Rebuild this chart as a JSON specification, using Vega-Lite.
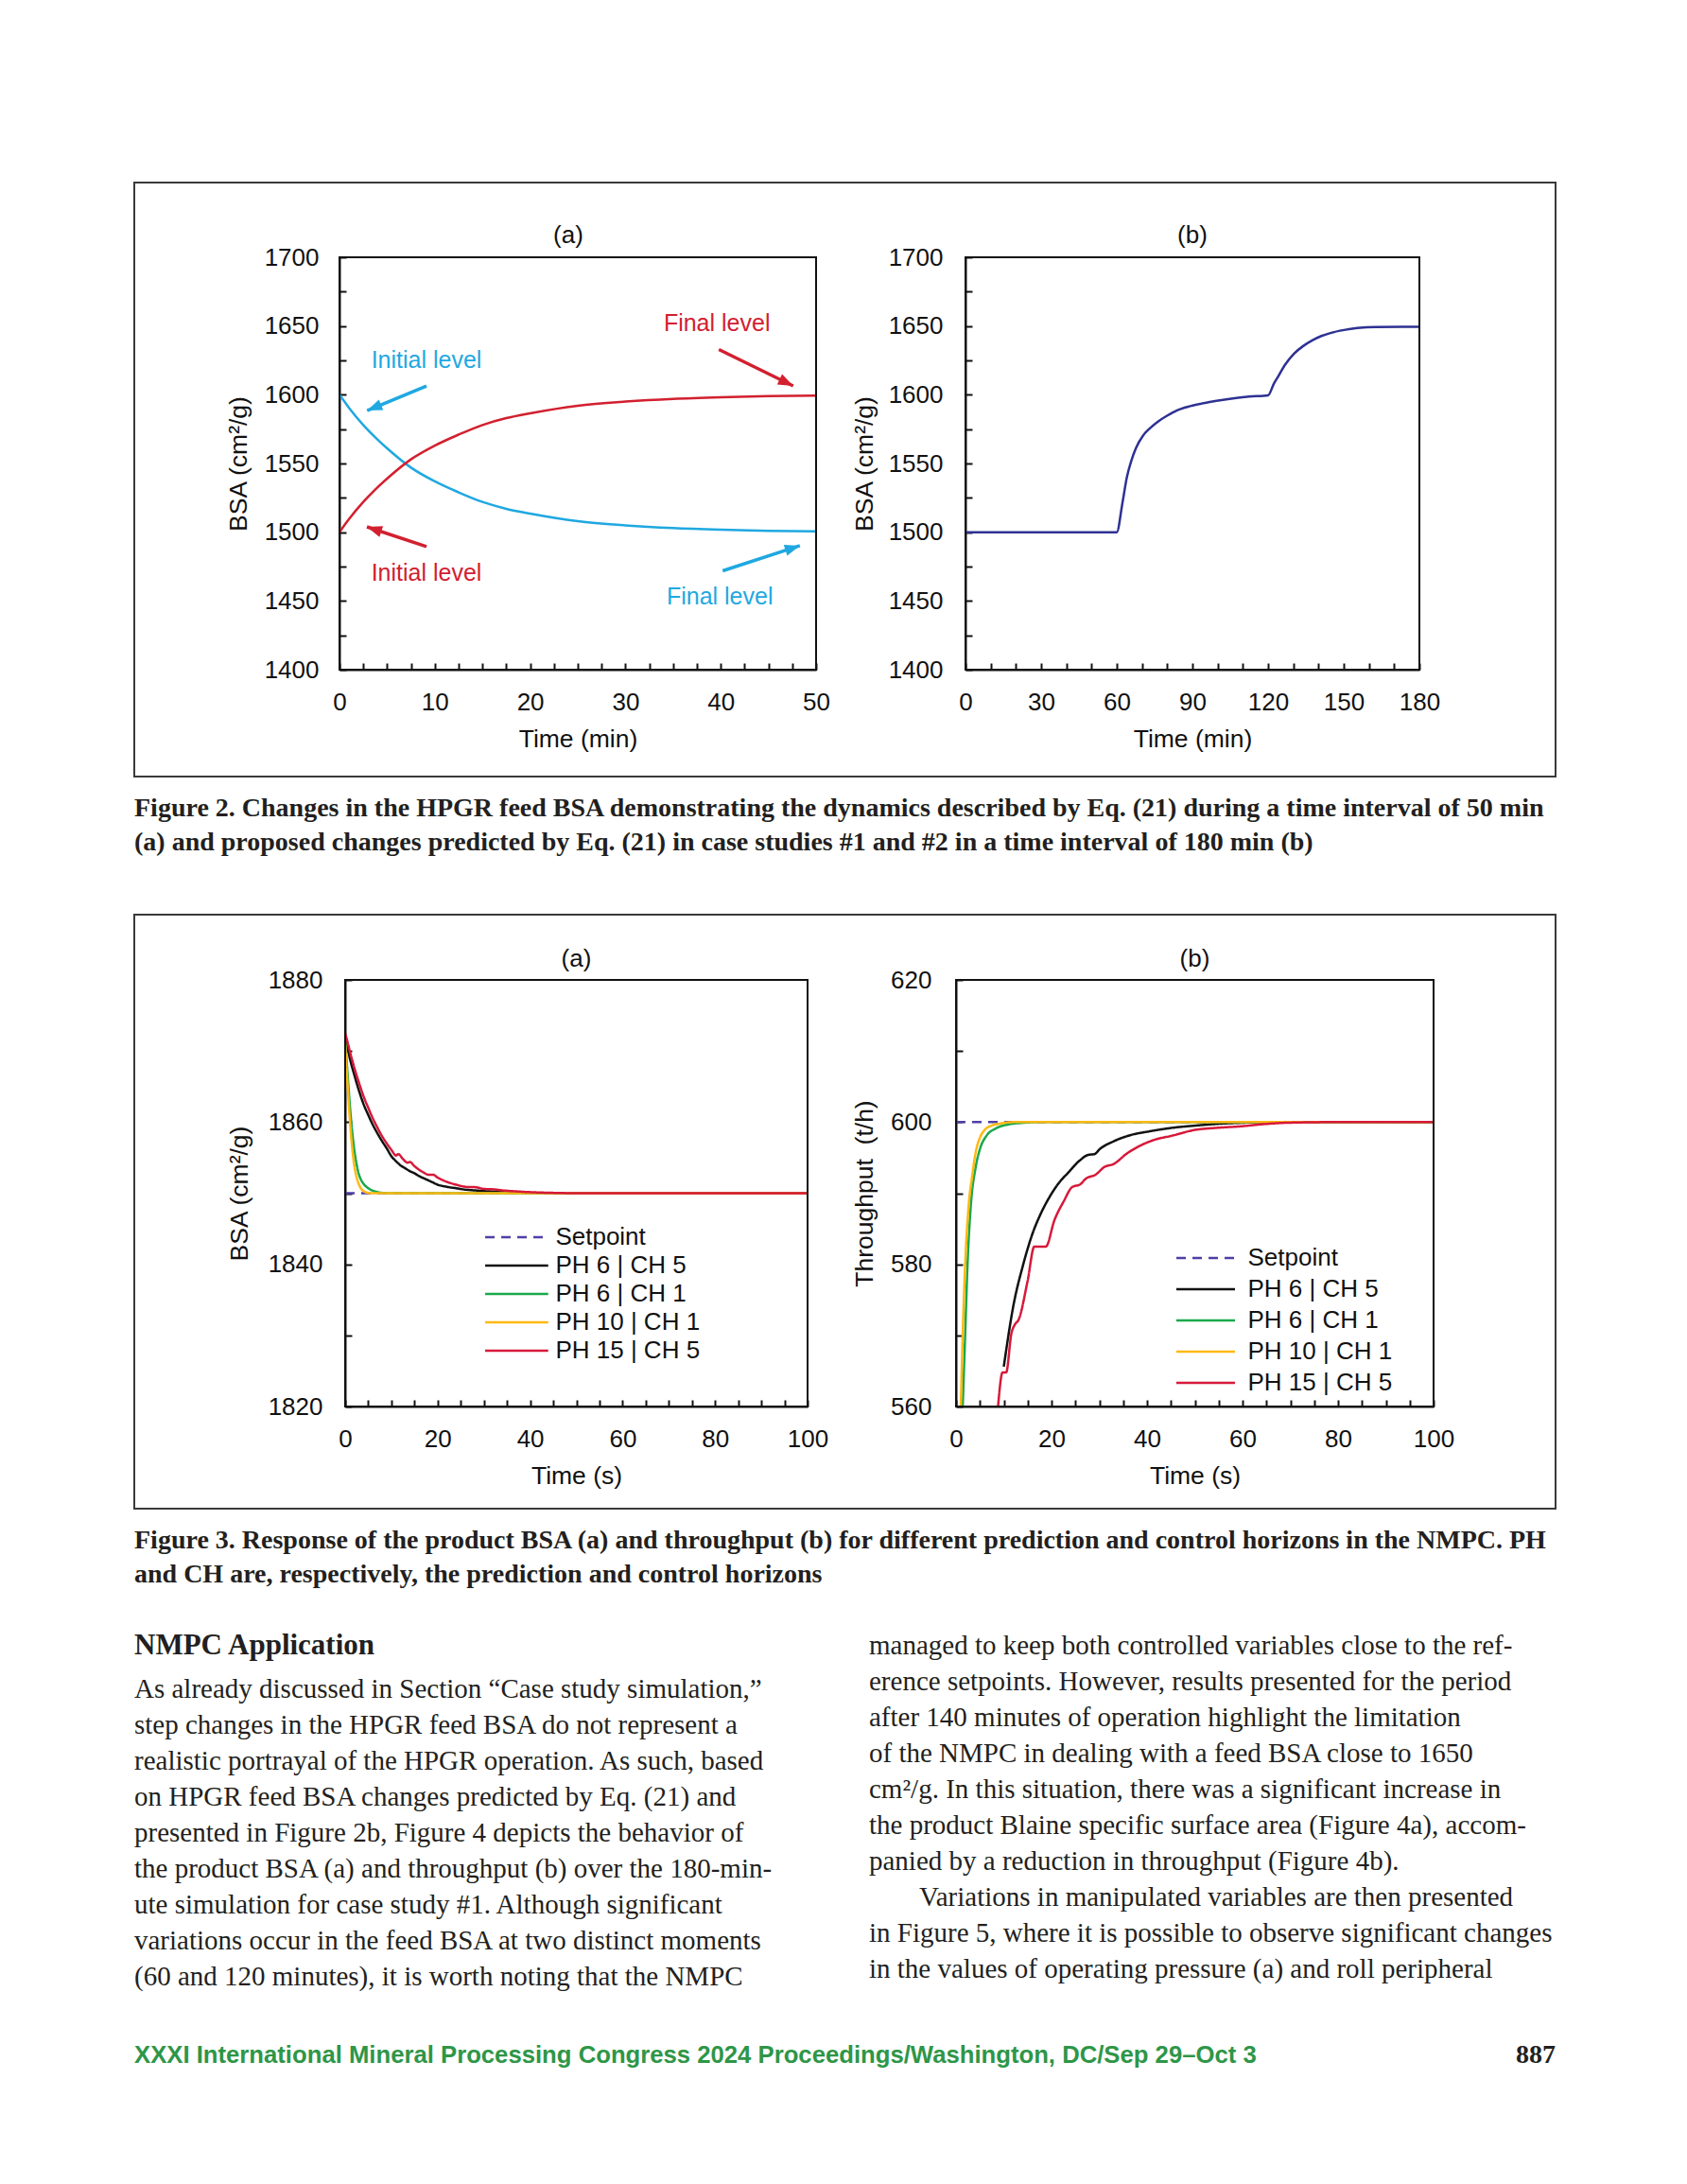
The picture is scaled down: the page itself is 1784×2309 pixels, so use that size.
{
  "$schema": "https://vega.github.io/schema/vega-lite/v6.json",
  "background": "white",
  "padding": {"left": 141, "top": 192, "right": 20, "bottom": 20},
  "config": {
    "font": "Liberation Sans",
    "view": {"stroke": null},
    "axis": {"grid": false, "domainColor": "#111111", "domainWidth": 2, "tickColor": "#111111", "tickWidth": 2, "tickSize": -7, "labelFont": "Liberation Sans", "labelFontSize": 26, "labelColor": "#111111", "titleFont": "Liberation Sans", "titleFontSize": 26.5, "titleFontWeight": "normal", "titleColor": "#111111", "labelFlush": false, "labelOverlap": false},
    "text": {"font": "Liberation Sans"}
  },
  "datasets": {
    "fig2a": [
      {"t": 0, "bsa": 1600, "series": "decrease"}, {"t": 1, "bsa": 1590.5, "series": "decrease"}, {"t": 2.5, "bsa": 1578, "series": "decrease"}, {"t": 3.75, "bsa": 1569, "series": "decrease"}, {"t": 5, "bsa": 1561, "series": "decrease"}, {"t": 7.5, "bsa": 1547, "series": "decrease"}, {"t": 10, "bsa": 1537, "series": "decrease"}, {"t": 12.5, "bsa": 1529, "series": "decrease"}, {"t": 15, "bsa": 1522, "series": "decrease"}, {"t": 17.5, "bsa": 1517, "series": "decrease"}, {"t": 20, "bsa": 1513.5, "series": "decrease"}, {"t": 25, "bsa": 1508, "series": "decrease"}, {"t": 30, "bsa": 1505, "series": "decrease"}, {"t": 35, "bsa": 1503, "series": "decrease"}, {"t": 40, "bsa": 1501.8, "series": "decrease"}, {"t": 45, "bsa": 1501, "series": "decrease"}, {"t": 50, "bsa": 1500.7, "series": "decrease"},
      {"t": 0, "bsa": 1500, "series": "increase"}, {"t": 1, "bsa": 1509.5, "series": "increase"}, {"t": 2.5, "bsa": 1522, "series": "increase"}, {"t": 3.75, "bsa": 1531, "series": "increase"}, {"t": 5, "bsa": 1539, "series": "increase"}, {"t": 7.5, "bsa": 1553, "series": "increase"}, {"t": 10, "bsa": 1563, "series": "increase"}, {"t": 12.5, "bsa": 1571, "series": "increase"}, {"t": 15, "bsa": 1578, "series": "increase"}, {"t": 17.5, "bsa": 1583, "series": "increase"}, {"t": 20, "bsa": 1586.5, "series": "increase"}, {"t": 25, "bsa": 1592, "series": "increase"}, {"t": 30, "bsa": 1595, "series": "increase"}, {"t": 35, "bsa": 1597, "series": "increase"}, {"t": 40, "bsa": 1598.2, "series": "increase"}, {"t": 45, "bsa": 1599, "series": "increase"}, {"t": 50, "bsa": 1599.3, "series": "increase"}
    ],
    "fig2b": [
      {"t": 0, "bsa": 1500}, {"t": 60, "bsa": 1500}, {"t": 62.2, "bsa": 1520.8}, {"t": 64, "bsa": 1540}, {"t": 65.8, "bsa": 1552.2}, {"t": 67.6, "bsa": 1561.2}, {"t": 70.3, "bsa": 1570}, {"t": 73, "bsa": 1575.4}, {"t": 76.6, "bsa": 1580.8}, {"t": 80.1, "bsa": 1584.9}, {"t": 83.7, "bsa": 1588.5}, {"t": 89.1, "bsa": 1591.7}, {"t": 96.3, "bsa": 1594.5}, {"t": 103.4, "bsa": 1596.6}, {"t": 112.4, "bsa": 1598.6}, {"t": 120, "bsa": 1599.6},
      {"t": 122.3, "bsa": 1608.1}, {"t": 124.1, "bsa": 1613.6}, {"t": 126.7, "bsa": 1621.7}, {"t": 130.3, "bsa": 1629.9}, {"t": 133.9, "bsa": 1635.4}, {"t": 137.5, "bsa": 1639.5}, {"t": 141.1, "bsa": 1642.7}, {"t": 144.7, "bsa": 1644.9}, {"t": 150.1, "bsa": 1647.1}, {"t": 155.4, "bsa": 1648.5}, {"t": 162.6, "bsa": 1649.3}, {"t": 180, "bsa": 1649.5}
    ],
    "fig3a": [
      {"t": 0, "bsa": 1850, "series": "Setpoint"}, {"t": 100, "bsa": 1850, "series": "Setpoint"},
      {"t": 0, "bsa": 1871.8, "series": "PH 6 | CH 5"}, {"t": 0.5, "bsa": 1870.5, "series": "PH 6 | CH 5"}, {"t": 1, "bsa": 1869, "series": "PH 6 | CH 5"}, {"t": 2, "bsa": 1866.6, "series": "PH 6 | CH 5"}, {"t": 3, "bsa": 1864.4, "series": "PH 6 | CH 5"}, {"t": 4, "bsa": 1862.5, "series": "PH 6 | CH 5"}, {"t": 5, "bsa": 1861, "series": "PH 6 | CH 5"}, {"t": 6, "bsa": 1859.6, "series": "PH 6 | CH 5"}, {"t": 7, "bsa": 1858.4, "series": "PH 6 | CH 5"}, {"t": 8, "bsa": 1857.3, "series": "PH 6 | CH 5"}, {"t": 9, "bsa": 1856.3, "series": "PH 6 | CH 5"}, {"t": 10, "bsa": 1855.2, "series": "PH 6 | CH 5"}, {"t": 11, "bsa": 1854.5, "series": "PH 6 | CH 5"}, {"t": 12, "bsa": 1853.9, "series": "PH 6 | CH 5"}, {"t": 13, "bsa": 1853.5, "series": "PH 6 | CH 5"}, {"t": 14, "bsa": 1853.1, "series": "PH 6 | CH 5"}, {"t": 15, "bsa": 1852.8, "series": "PH 6 | CH 5"}, {"t": 16, "bsa": 1852.4, "series": "PH 6 | CH 5"}, {"t": 17, "bsa": 1852.1, "series": "PH 6 | CH 5"}, {"t": 18, "bsa": 1851.8, "series": "PH 6 | CH 5"}, {"t": 19, "bsa": 1851.5, "series": "PH 6 | CH 5"}, {"t": 20, "bsa": 1851.2, "series": "PH 6 | CH 5"}, {"t": 22, "bsa": 1850.9, "series": "PH 6 | CH 5"}, {"t": 24, "bsa": 1850.7, "series": "PH 6 | CH 5"}, {"t": 26, "bsa": 1850.5, "series": "PH 6 | CH 5"}, {"t": 28, "bsa": 1850.4, "series": "PH 6 | CH 5"}, {"t": 30, "bsa": 1850.3, "series": "PH 6 | CH 5"}, {"t": 33, "bsa": 1850.2, "series": "PH 6 | CH 5"}, {"t": 36, "bsa": 1850.1, "series": "PH 6 | CH 5"}, {"t": 40, "bsa": 1850.05, "series": "PH 6 | CH 5"}, {"t": 45, "bsa": 1850, "series": "PH 6 | CH 5"}, {"t": 100, "bsa": 1850, "series": "PH 6 | CH 5"},
      {"t": 0, "bsa": 1871.5, "series": "PH 6 | CH 1"}, {"t": 0.5, "bsa": 1867, "series": "PH 6 | CH 1"}, {"t": 1, "bsa": 1862.5, "series": "PH 6 | CH 1"}, {"t": 1.5, "bsa": 1858.8, "series": "PH 6 | CH 1"}, {"t": 2, "bsa": 1856, "series": "PH 6 | CH 1"}, {"t": 2.5, "bsa": 1854, "series": "PH 6 | CH 1"}, {"t": 3, "bsa": 1852.6, "series": "PH 6 | CH 1"}, {"t": 3.5, "bsa": 1851.8, "series": "PH 6 | CH 1"}, {"t": 4, "bsa": 1851.3, "series": "PH 6 | CH 1"}, {"t": 5, "bsa": 1850.7, "series": "PH 6 | CH 1"}, {"t": 6, "bsa": 1850.35, "series": "PH 6 | CH 1"}, {"t": 7, "bsa": 1850.15, "series": "PH 6 | CH 1"}, {"t": 8, "bsa": 1850.05, "series": "PH 6 | CH 1"}, {"t": 10, "bsa": 1850, "series": "PH 6 | CH 1"}, {"t": 100, "bsa": 1850, "series": "PH 6 | CH 1"},
      {"t": 0, "bsa": 1871, "series": "PH 10 | CH 1"}, {"t": 0.5, "bsa": 1865.5, "series": "PH 10 | CH 1"}, {"t": 1, "bsa": 1860.5, "series": "PH 10 | CH 1"}, {"t": 1.5, "bsa": 1856.5, "series": "PH 10 | CH 1"}, {"t": 2, "bsa": 1853.8, "series": "PH 10 | CH 1"}, {"t": 2.5, "bsa": 1852.2, "series": "PH 10 | CH 1"}, {"t": 3, "bsa": 1851.2, "series": "PH 10 | CH 1"}, {"t": 3.5, "bsa": 1850.6, "series": "PH 10 | CH 1"}, {"t": 4, "bsa": 1850.3, "series": "PH 10 | CH 1"}, {"t": 5, "bsa": 1850.05, "series": "PH 10 | CH 1"}, {"t": 6, "bsa": 1850, "series": "PH 10 | CH 1"}, {"t": 100, "bsa": 1850, "series": "PH 10 | CH 1"},
      {"t": 0, "bsa": 1872.5, "series": "PH 15 | CH 5"}, {"t": 0.5, "bsa": 1871.3, "series": "PH 15 | CH 5"}, {"t": 1, "bsa": 1870, "series": "PH 15 | CH 5"}, {"t": 2, "bsa": 1867.6, "series": "PH 15 | CH 5"}, {"t": 3, "bsa": 1865.5, "series": "PH 15 | CH 5"}, {"t": 4, "bsa": 1863.6, "series": "PH 15 | CH 5"}, {"t": 5, "bsa": 1862, "series": "PH 15 | CH 5"}, {"t": 6, "bsa": 1860.5, "series": "PH 15 | CH 5"}, {"t": 7, "bsa": 1859.2, "series": "PH 15 | CH 5"}, {"t": 8, "bsa": 1858, "series": "PH 15 | CH 5"}, {"t": 9, "bsa": 1857, "series": "PH 15 | CH 5"}, {"t": 10, "bsa": 1856.1, "series": "PH 15 | CH 5"}, {"t": 11, "bsa": 1855.3, "series": "PH 15 | CH 5"}, {"t": 11.5, "bsa": 1855.5, "series": "PH 15 | CH 5"}, {"t": 12.5, "bsa": 1854.8, "series": "PH 15 | CH 5"}, {"t": 13.5, "bsa": 1854.3, "series": "PH 15 | CH 5"}, {"t": 14, "bsa": 1854.4, "series": "PH 15 | CH 5"}, {"t": 15, "bsa": 1853.8, "series": "PH 15 | CH 5"}, {"t": 16, "bsa": 1853.3, "series": "PH 15 | CH 5"}, {"t": 17, "bsa": 1852.9, "series": "PH 15 | CH 5"}, {"t": 18, "bsa": 1852.6, "series": "PH 15 | CH 5"}, {"t": 19, "bsa": 1852.6, "series": "PH 15 | CH 5"}, {"t": 20, "bsa": 1852.2, "series": "PH 15 | CH 5"}, {"t": 22, "bsa": 1851.6, "series": "PH 15 | CH 5"}, {"t": 24, "bsa": 1851.2, "series": "PH 15 | CH 5"}, {"t": 26, "bsa": 1850.9, "series": "PH 15 | CH 5"}, {"t": 27, "bsa": 1850.85, "series": "PH 15 | CH 5"}, {"t": 28, "bsa": 1850.85, "series": "PH 15 | CH 5"}, {"t": 30, "bsa": 1850.6, "series": "PH 15 | CH 5"}, {"t": 32, "bsa": 1850.55, "series": "PH 15 | CH 5"}, {"t": 34, "bsa": 1850.4, "series": "PH 15 | CH 5"}, {"t": 36, "bsa": 1850.3, "series": "PH 15 | CH 5"}, {"t": 40, "bsa": 1850.15, "series": "PH 15 | CH 5"}, {"t": 45, "bsa": 1850.05, "series": "PH 15 | CH 5"}, {"t": 50, "bsa": 1850, "series": "PH 15 | CH 5"}, {"t": 100, "bsa": 1850, "series": "PH 15 | CH 5"}
    ],
    "fig3b": [
      {"t": 0, "tph": 600, "series": "Setpoint"}, {"t": 100, "tph": 600, "series": "Setpoint"},
      {"t": 10, "tph": 565.6, "series": "PH 6 | CH 5"}, {"t": 12.1, "tph": 574.5, "series": "PH 6 | CH 5"}, {"t": 14, "tph": 579.8, "series": "PH 6 | CH 5"}, {"t": 15.9, "tph": 584.1, "series": "PH 6 | CH 5"}, {"t": 17.8, "tph": 587.2, "series": "PH 6 | CH 5"}, {"t": 19.7, "tph": 589.6, "series": "PH 6 | CH 5"}, {"t": 21.6, "tph": 591.5, "series": "PH 6 | CH 5"}, {"t": 23.5, "tph": 592.9, "series": "PH 6 | CH 5"}, {"t": 25.9, "tph": 594.6, "series": "PH 6 | CH 5"}, {"t": 27.7, "tph": 595.4, "series": "PH 6 | CH 5"}, {"t": 29, "tph": 595.5, "series": "PH 6 | CH 5"}, {"t": 30.1, "tph": 596.2, "series": "PH 6 | CH 5"}, {"t": 33, "tph": 597.3, "series": "PH 6 | CH 5"}, {"t": 36.7, "tph": 598.2, "series": "PH 6 | CH 5"}, {"t": 40.5, "tph": 598.7, "series": "PH 6 | CH 5"}, {"t": 45.3, "tph": 599.2, "series": "PH 6 | CH 5"}, {"t": 50, "tph": 599.5, "series": "PH 6 | CH 5"}, {"t": 54.7, "tph": 599.75, "series": "PH 6 | CH 5"}, {"t": 59.5, "tph": 599.9, "series": "PH 6 | CH 5"}, {"t": 65, "tph": 600, "series": "PH 6 | CH 5"}, {"t": 100, "tph": 600, "series": "PH 6 | CH 5"},
      {"t": 1.4, "tph": 560, "series": "PH 6 | CH 1"}, {"t": 1.9, "tph": 569.8, "series": "PH 6 | CH 1"}, {"t": 2.4, "tph": 579.8, "series": "PH 6 | CH 1"}, {"t": 3.1, "tph": 588.3, "series": "PH 6 | CH 1"}, {"t": 4.1, "tph": 593.6, "series": "PH 6 | CH 1"}, {"t": 5, "tph": 596.2, "series": "PH 6 | CH 1"}, {"t": 6.4, "tph": 598.1, "series": "PH 6 | CH 1"}, {"t": 8.3, "tph": 599.1, "series": "PH 6 | CH 1"}, {"t": 11.2, "tph": 599.7, "series": "PH 6 | CH 1"}, {"t": 14, "tph": 599.9, "series": "PH 6 | CH 1"}, {"t": 17, "tph": 600, "series": "PH 6 | CH 1"}, {"t": 100, "tph": 600, "series": "PH 6 | CH 1"},
      {"t": 1, "tph": 560, "series": "PH 10 | CH 1"}, {"t": 1.5, "tph": 572.4, "series": "PH 10 | CH 1"}, {"t": 1.9, "tph": 579.8, "series": "PH 10 | CH 1"}, {"t": 2.65, "tph": 588.3, "series": "PH 10 | CH 1"}, {"t": 3.4, "tph": 592.5, "series": "PH 10 | CH 1"}, {"t": 4.1, "tph": 595.7, "series": "PH 10 | CH 1"}, {"t": 5, "tph": 597.8, "series": "PH 10 | CH 1"}, {"t": 6, "tph": 598.9, "series": "PH 10 | CH 1"}, {"t": 7.4, "tph": 599.5, "series": "PH 10 | CH 1"}, {"t": 9.3, "tph": 599.8, "series": "PH 10 | CH 1"}, {"t": 12, "tph": 600, "series": "PH 10 | CH 1"}, {"t": 100, "tph": 600, "series": "PH 10 | CH 1"},
      {"t": 8.8, "tph": 560, "series": "PH 15 | CH 5"}, {"t": 9.75, "tph": 564.8, "series": "PH 15 | CH 5"}, {"t": 10.5, "tph": 564.8, "series": "PH 15 | CH 5"}, {"t": 11.6, "tph": 570.3, "series": "PH 15 | CH 5"}, {"t": 12.3, "tph": 571.5, "series": "PH 15 | CH 5"}, {"t": 13.1, "tph": 572.2, "series": "PH 15 | CH 5"}, {"t": 15, "tph": 577.7, "series": "PH 15 | CH 5"}, {"t": 16.4, "tph": 582.5, "series": "PH 15 | CH 5"}, {"t": 18.8, "tph": 582.5, "series": "PH 15 | CH 5"}, {"t": 20.6, "tph": 586.2, "series": "PH 15 | CH 5"}, {"t": 22.5, "tph": 588.8, "series": "PH 15 | CH 5"}, {"t": 24.4, "tph": 590.9, "series": "PH 15 | CH 5"}, {"t": 25.9, "tph": 591.2, "series": "PH 15 | CH 5"}, {"t": 27.3, "tph": 592.1, "series": "PH 15 | CH 5"}, {"t": 29.2, "tph": 592.6, "series": "PH 15 | CH 5"}, {"t": 31.1, "tph": 593.7, "series": "PH 15 | CH 5"}, {"t": 33, "tph": 594.1, "series": "PH 15 | CH 5"}, {"t": 35.8, "tph": 595.6, "series": "PH 15 | CH 5"}, {"t": 38.6, "tph": 596.7, "series": "PH 15 | CH 5"}, {"t": 41.5, "tph": 597.5, "series": "PH 15 | CH 5"}, {"t": 45.3, "tph": 598.1, "series": "PH 15 | CH 5"}, {"t": 50, "tph": 598.9, "series": "PH 15 | CH 5"}, {"t": 54.7, "tph": 599.2, "series": "PH 15 | CH 5"}, {"t": 59.5, "tph": 599.4, "series": "PH 15 | CH 5"}, {"t": 64.2, "tph": 599.7, "series": "PH 15 | CH 5"}, {"t": 68.9, "tph": 599.9, "series": "PH 15 | CH 5"}, {"t": 78.4, "tph": 600, "series": "PH 15 | CH 5"}, {"t": 100, "tph": 600, "series": "PH 15 | CH 5"}
    ],
    "heading": [{"line": 0, "text": "NMPC Application"}],
    "bodyLeft": [
      {"line": 0, "text": "As already discussed in Section “Case study simulation,”"},
      {"line": 1, "text": "step changes in the HPGR feed BSA do not represent a"},
      {"line": 2, "text": "realistic portrayal of the HPGR operation. As such, based"},
      {"line": 3, "text": "on HPGR feed BSA changes predicted by Eq. (21) and"},
      {"line": 4, "text": "presented in Figure 2b, Figure 4 depicts the behavior of"},
      {"line": 5, "text": "the product BSA (a) and throughput (b) over the 180-min-"},
      {"line": 6, "text": "ute simulation for case study #1. Although significant"},
      {"line": 7, "text": "variations occur in the feed BSA at two distinct moments"},
      {"line": 8, "text": "(60 and 120 minutes), it is worth noting that the NMPC"}
    ],
    "bodyRight": [
      {"line": 0, "text": "managed to keep both controlled variables close to the ref-", "para": "continued"},
      {"line": 1, "text": "erence setpoints. However, results presented for the period", "para": "continued"},
      {"line": 2, "text": "after 140 minutes of operation highlight the limitation", "para": "continued"},
      {"line": 3, "text": "of the NMPC in dealing with a feed BSA close to 1650", "para": "continued"},
      {"line": 4, "text": "cm²/g. In this situation, there was a significant increase in", "para": "continued"},
      {"line": 5, "text": "the product Blaine specific surface area (Figure 4a), accom-", "para": "continued"},
      {"line": 6, "text": "panied by a reduction in throughput (Figure 4b).", "para": "continued"},
      {"line": 7, "text": "Variations in manipulated variables are then presented", "para": "first"},
      {"line": 8, "text": "in Figure 5, where it is possible to observe significant changes", "para": "continued"},
      {"line": 9, "text": "in the values of operating pressure (a) and roll peripheral", "para": "continued"}
    ]
  },
  "spacing": 41,
  "vconcat": [
    {
      "spacing": 60,
      "vconcat": [
        {
          "width": 1503,
          "height": 628,
          "view": {"stroke": "#3a3a3a", "strokeWidth": 2},
          "title": {"text": ["Figure 2. Changes in the HPGR feed BSA demonstrating the dynamics described by Eq. (21) during a time interval of 50 min", "(a) and proposed changes predicted by Eq. (21) in case studies #1 and #2 in a time interval of 180 min (b)"], "orient": "bottom", "anchor": "start", "offset": 20, "font": "Liberation Serif", "fontSize": 28, "fontWeight": "bold", "lineHeight": 36, "color": "#231f20", "baseline": "top"},
          "data": {"values": [{}]},
          "resolve": {"scale": {"x": "independent", "y": "independent"}, "axis": {"x": "independent", "y": "independent"}},
          "layer": [
            {
              "layer": [
                {
                  "data": {"name": "fig2a"},
                  "mark": {"type": "line", "interpolate": "monotone", "strokeWidth": 2.5},
                  "encoding": {
                    "x": {"field": "t", "type": "quantitative", "scale": {"domain": [0, 50], "range": [217, 721], "nice": false, "zero": false}, "axis": {"orient": "bottom", "offset": -113, "title": "Time (min)", "format": "d", "values": [0, 2.5, 5, 7.5, 10, 12.5, 15, 17.5, 20, 22.5, 25, 27.5, 30, 32.5, 35, 37.5, 40, 42.5, 45, 47.5, 50], "labelExpr": "datum.value % 10 === 0 ? datum.label : ''", "labelPadding": 28, "titlePadding": 13}},
                    "y": {"field": "bsa", "type": "quantitative", "scale": {"domain": [1400, 1700], "range": [515, 79], "nice": false, "zero": false}, "axis": {"orient": "left", "offset": -217, "title": "BSA (cm²/g)", "format": "d", "values": [1400, 1425, 1450, 1475, 1500, 1525, 1550, 1575, 1600, 1625, 1650, 1675, 1700], "labelExpr": "datum.value % 50 === 0 ? datum.label : ''", "labelPadding": 29, "titlePadding": 12.5}},
                    "color": {"field": "series", "type": "nominal", "scale": {"domain": ["decrease", "increase"], "range": ["#1FA8E1", "#D2202F"]}, "legend": null}
                  }
                },
                {"mark": {"type": "rect", "fill": "transparent", "stroke": "#111111", "strokeWidth": 2}, "encoding": {"x": {"datum": 0}, "x2": {"datum": 50}, "y": {"datum": 1400}, "y2": {"datum": 1700}}},
                {"mark": {"type": "text", "text": "(a)", "fontSize": 26, "dy": -23, "color": "#111111"}, "encoding": {"x": {"datum": 24}, "y": {"datum": 1700}}},
                {"mark": {"type": "text", "text": "Initial level", "fontSize": 25, "color": "#1FA8E1"}, "encoding": {"x": {"datum": 9.13}, "y": {"datum": 1624.7}}},
                {"mark": {"type": "text", "text": "Final level", "fontSize": 25, "color": "#D2202F"}, "encoding": {"x": {"datum": 39.6}, "y": {"datum": 1651.5}}},
                {"mark": {"type": "text", "text": "Initial level", "fontSize": 25, "color": "#D2202F"}, "encoding": {"x": {"datum": 9.13}, "y": {"datum": 1470.5}}},
                {"mark": {"type": "text", "text": "Final level", "fontSize": 25, "color": "#1FA8E1"}, "encoding": {"x": {"datum": 39.9}, "y": {"datum": 1453}}},
                {"mark": {"type": "rule", "strokeWidth": 3.5, "color": "#1FA8E1"}, "encoding": {"x": {"datum": 9.13}, "y": {"datum": 1606.4}, "x2": {"datum": 2.9}, "y2": {"datum": 1588.5}}},
                {"mark": {"type": "rule", "strokeWidth": 3.5, "color": "#D2202F"}, "encoding": {"x": {"datum": 39.8}, "y": {"datum": 1632.9}, "x2": {"datum": 47.6}, "y2": {"datum": 1606.4}}},
                {"mark": {"type": "rule", "strokeWidth": 3.5, "color": "#D2202F"}, "encoding": {"x": {"datum": 9.13}, "y": {"datum": 1489.5}, "x2": {"datum": 2.88}, "y2": {"datum": 1503.9}}},
                {"mark": {"type": "rule", "strokeWidth": 3.5, "color": "#1FA8E1"}, "encoding": {"x": {"datum": 40.2}, "y": {"datum": 1471.9}, "x2": {"datum": 48.3}, "y2": {"datum": 1490.2}}},
                {"mark": {"type": "point", "shape": "M0,0L-0.75,2L0.75,2Z", "size": 256, "angle": 247.6, "filled": true, "opacity": 1, "strokeWidth": 0, "color": "#1FA8E1"}, "encoding": {"x": {"datum": 2.9}, "y": {"datum": 1588.5}}},
                {"mark": {"type": "point", "shape": "M0,0L-0.75,2L0.75,2Z", "size": 256, "angle": 116.1, "filled": true, "opacity": 1, "strokeWidth": 0, "color": "#D2202F"}, "encoding": {"x": {"datum": 47.6}, "y": {"datum": 1606.4}}},
                {"mark": {"type": "point", "shape": "M0,0L-0.75,2L0.75,2Z", "size": 256, "angle": 288.4, "filled": true, "opacity": 1, "strokeWidth": 0, "color": "#D2202F"}, "encoding": {"x": {"datum": 2.88}, "y": {"datum": 1503.9}}},
                {"mark": {"type": "point", "shape": "M0,0L-0.75,2L0.75,2Z", "size": 256, "angle": 72.1, "filled": true, "opacity": 1, "strokeWidth": 0, "color": "#1FA8E1"}, "encoding": {"x": {"datum": 48.3}, "y": {"datum": 1490.2}}}
              ]
            },
            {
              "layer": [
                {
                  "data": {"name": "fig2b"},
                  "mark": {"type": "line", "interpolate": "monotone", "strokeWidth": 2.5, "color": "#2E3192"},
                  "encoding": {
                    "x": {"field": "t", "type": "quantitative", "scale": {"domain": [0, 180], "range": [879, 1359], "nice": false, "zero": false}, "axis": {"orient": "bottom", "offset": -113, "title": "Time (min)", "format": "d", "values": [0, 10, 20, 30, 40, 50, 60, 70, 80, 90, 100, 110, 120, 130, 140, 150, 160, 170, 180], "labelExpr": "datum.value % 30 === 0 ? datum.label : ''", "labelPadding": 28, "titlePadding": 13}},
                    "y": {"field": "bsa", "type": "quantitative", "scale": {"domain": [1400, 1700], "range": [515, 79], "nice": false, "zero": false}, "axis": {"orient": "left", "offset": -879, "title": "BSA (cm²/g)", "format": "d", "values": [1400, 1412.5, 1425, 1437.5, 1450, 1462.5, 1475, 1487.5, 1500, 1512.5, 1525, 1537.5, 1550, 1562.5, 1575, 1587.5, 1600, 1612.5, 1625, 1637.5, 1650, 1662.5, 1675, 1687.5, 1700], "labelExpr": "datum.value % 50 === 0 ? datum.label : ''", "labelPadding": 31, "titlePadding": 11}}
                  }
                },
                {"mark": {"type": "rect", "fill": "transparent", "stroke": "#111111", "strokeWidth": 2}, "encoding": {"x": {"datum": 0}, "x2": {"datum": 180}, "y": {"datum": 1400}, "y2": {"datum": 1700}}},
                {"mark": {"type": "text", "text": "(b)", "fontSize": 26, "dy": -23, "color": "#111111"}, "encoding": {"x": {"datum": 90}, "y": {"datum": 1700}}}
              ]
            }
          ]
        },
        {
          "width": 1503,
          "height": 628,
          "view": {"stroke": "#3a3a3a", "strokeWidth": 2},
          "title": {"text": ["Figure 3. Response of the product BSA (a) and throughput (b) for different prediction and control horizons in the NMPC. PH", "and CH are, respectively, the prediction and control horizons"], "orient": "bottom", "anchor": "start", "offset": 20, "font": "Liberation Serif", "fontSize": 28, "fontWeight": "bold", "lineHeight": 36, "color": "#231f20", "baseline": "top"},
          "data": {"values": [{}]},
          "resolve": {"scale": {"x": "independent", "y": "independent", "color": "independent", "strokeDash": "independent"}, "axis": {"x": "independent", "y": "independent"}, "legend": {"color": "independent", "strokeDash": "independent"}},
          "layer": [
            {
              "layer": [
                {
                  "data": {"name": "fig3a"},
                  "mark": {"type": "line", "interpolate": "monotone", "strokeWidth": 2.5},
                  "encoding": {
                    "x": {"field": "t", "type": "quantitative", "scale": {"domain": [0, 100], "range": [223, 712], "nice": false, "zero": false}, "axis": {"orient": "bottom", "offset": -108, "title": "Time (s)", "format": "d", "values": [0, 5, 10, 15, 20, 25, 30, 35, 40, 45, 50, 55, 60, 65, 70, 75, 80, 85, 90, 95, 100], "labelExpr": "datum.value % 20 === 0 ? datum.label : ''", "labelPadding": 28, "titlePadding": 13}},
                    "y": {"field": "bsa", "type": "quantitative", "scale": {"domain": [1820, 1880], "range": [520, 69], "nice": false, "zero": false}, "axis": {"orient": "left", "offset": -223, "title": "BSA (cm²/g)", "format": "d", "values": [1820, 1830, 1840, 1850, 1860, 1870, 1880], "labelExpr": "datum.value % 20 === 0 ? datum.label : ''", "labelPadding": 31, "titlePadding": 15.5}},
                    "color": {"field": "series", "type": "nominal", "scale": {"domain": ["Setpoint", "PH 6 | CH 5", "PH 6 | CH 1", "PH 10 | CH 1", "PH 15 | CH 5"], "range": ["#4F3FA6", "#111111", "#1BA84A", "#FDB913", "#D7193A"]}, "legend": {"orient": "none", "legendX": 371, "legendY": 328, "title": null, "symbolType": "M-8,0H8", "symbolSize": 69.5, "symbolStrokeWidth": 2.5, "symbolOffset": 20.4, "labelOffset": 28, "labelFont": "Liberation Sans", "labelFontSize": 26, "labelColor": "#111111", "rowPadding": 4, "padding": 0, "labelLimit": 500}},
                    "strokeDash": {"field": "series", "type": "nominal", "scale": {"domain": ["Setpoint", "PH 6 | CH 5", "PH 6 | CH 1", "PH 10 | CH 1", "PH 15 | CH 5"], "range": [[10, 7], [1, 0], [1, 0], [1, 0], [1, 0]]}, "legend": {"orient": "none", "legendX": 371, "legendY": 328, "title": null, "symbolType": "M-8,0H8", "symbolSize": 69.5, "symbolStrokeWidth": 2.5, "symbolOffset": 20.4, "labelOffset": 28, "labelFont": "Liberation Sans", "labelFontSize": 26, "labelColor": "#111111", "rowPadding": 4, "padding": 0, "labelLimit": 500}}
                  }
                },
                {"mark": {"type": "rect", "fill": "transparent", "stroke": "#111111", "strokeWidth": 2}, "encoding": {"x": {"datum": 0}, "x2": {"datum": 100}, "y": {"datum": 1820}, "y2": {"datum": 1880}}},
                {"mark": {"type": "text", "text": "(a)", "fontSize": 26, "dy": -22, "color": "#111111"}, "encoding": {"x": {"datum": 50}, "y": {"datum": 1880}}}
              ]
            },
            {
              "layer": [
                {
                  "data": {"name": "fig3b"},
                  "mark": {"type": "line", "interpolate": "monotone", "strokeWidth": 2.5},
                  "encoding": {
                    "x": {"field": "t", "type": "quantitative", "scale": {"domain": [0, 100], "range": [869, 1374], "nice": false, "zero": false}, "axis": {"orient": "bottom", "offset": -108, "title": "Time (s)", "format": "d", "values": [0, 5, 10, 15, 20, 25, 30, 35, 40, 45, 50, 55, 60, 65, 70, 75, 80, 85, 90, 95, 100], "labelExpr": "datum.value % 20 === 0 ? datum.label : ''", "labelPadding": 28, "titlePadding": 13}},
                    "y": {"field": "tph", "type": "quantitative", "scale": {"domain": [560, 620], "range": [520, 69], "nice": false, "zero": false}, "axis": {"orient": "left", "offset": -869, "title": "Throughput\u00a0 (t/h)", "format": "d", "values": [560, 570, 580, 590, 600, 610, 620], "labelExpr": "datum.value % 20 === 0 ? datum.label : ''", "labelPadding": 33, "titlePadding": 13.4}},
                    "color": {"field": "series", "type": "nominal", "scale": {"domain": ["Setpoint", "PH 6 | CH 5", "PH 6 | CH 1", "PH 10 | CH 1", "PH 15 | CH 5"], "range": ["#4F3FA6", "#111111", "#1BA84A", "#FDB913", "#D7193A"]}, "legend": {"orient": "none", "legendX": 1102, "legendY": 350, "title": null, "symbolType": "M-8,0H8", "symbolSize": 60, "symbolStrokeWidth": 2.5, "symbolOffset": 18, "labelOffset": 31.5, "labelFont": "Liberation Sans", "labelFontSize": 26, "labelColor": "#111111", "rowPadding": 7, "padding": 0, "labelLimit": 500}},
                    "strokeDash": {"field": "series", "type": "nominal", "scale": {"domain": ["Setpoint", "PH 6 | CH 5", "PH 6 | CH 1", "PH 10 | CH 1", "PH 15 | CH 5"], "range": [[10, 7], [1, 0], [1, 0], [1, 0], [1, 0]]}, "legend": {"orient": "none", "legendX": 1102, "legendY": 350, "title": null, "symbolType": "M-8,0H8", "symbolSize": 60, "symbolStrokeWidth": 2.5, "symbolOffset": 18, "labelOffset": 31.5, "labelFont": "Liberation Sans", "labelFontSize": 26, "labelColor": "#111111", "rowPadding": 7, "padding": 0, "labelLimit": 500}}
                  }
                },
                {"mark": {"type": "rect", "fill": "transparent", "stroke": "#111111", "strokeWidth": 2}, "encoding": {"x": {"datum": 0}, "x2": {"datum": 100}, "y": {"datum": 560}, "y2": {"datum": 620}}},
                {"mark": {"type": "text", "text": "(b)", "fontSize": 26, "dy": -22, "color": "#111111"}, "encoding": {"x": {"datum": 50}, "y": {"datum": 620}}}
              ]
            }
          ]
        }
      ]
    },
    {
      "spacing": 45,
      "vconcat": [
        {
          "spacing": 52,
          "hconcat": [
            {
              "spacing": 8,
              "bounds": "flush",
              "vconcat": [
                {
                  "data": {"name": "heading"},
                  "width": 725,
                  "height": {"step": 38},
                  "mark": {"type": "text", "align": "left", "baseline": "middle", "font": "Liberation Serif", "fontWeight": "bold", "fontSize": 31, "color": "#231f20"},
                  "encoding": {"x": {"value": 0}, "y": {"field": "line", "type": "ordinal", "axis": null}, "text": {"field": "text"}}
                },
                {
                  "data": {"name": "bodyLeft"},
                  "width": 725,
                  "height": {"step": 38},
                  "mark": {"type": "text", "align": "left", "baseline": "middle", "font": "Liberation Serif", "fontSize": 29, "color": "#231f20"},
                  "encoding": {"x": {"value": 0}, "y": {"field": "line", "type": "ordinal", "axis": null}, "text": {"field": "text"}}
                }
              ]
            },
            {
              "data": {"name": "bodyRight"},
              "width": 726,
              "height": {"step": 38},
              "layer": [
                {
                  "transform": [{"filter": "datum.para === 'continued'"}],
                  "mark": {"type": "text", "align": "left", "baseline": "middle", "font": "Liberation Serif", "fontSize": 29, "color": "#231f20"},
                  "encoding": {"x": {"value": 0}, "y": {"field": "line", "type": "ordinal", "axis": null}, "text": {"field": "text"}}
                },
                {
                  "transform": [{"filter": "datum.para === 'first'"}],
                  "mark": {"type": "text", "align": "left", "baseline": "middle", "font": "Liberation Serif", "fontSize": 29, "color": "#231f20", "dx": 53},
                  "encoding": {"x": {"value": 0}, "y": {"field": "line", "type": "ordinal", "axis": null}, "text": {"field": "text"}}
                }
              ]
            }
          ]
        },
        {
          "width": 1503,
          "height": 38,
          "data": {"values": [{}]},
          "layer": [
            {"mark": {"type": "text", "text": "XXXI International Mineral Processing Congress 2024 Proceedings/Washington, DC/Sep 29–Oct 3", "align": "left", "baseline": "middle", "font": "Liberation Sans", "fontWeight": "bold", "fontSize": 25.7, "color": "#2E9647"}, "encoding": {"x": {"value": 0}}},
            {"mark": {"type": "text", "text": "887", "align": "right", "baseline": "middle", "font": "Liberation Serif", "fontWeight": "bold", "fontSize": 28, "color": "#231f20"}, "encoding": {"x": {"value": "width"}}}
          ]
        }
      ]
    }
  ]
}
